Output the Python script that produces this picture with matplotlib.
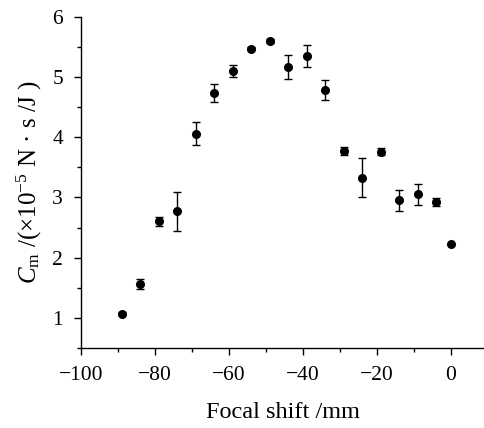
import matplotlib
matplotlib.use("Agg")
import matplotlib.pyplot as plt
from matplotlib.ticker import MultipleLocator

plt.rcParams['font.family'] = ['Liberation Serif', 'DejaVu Serif']
plt.rcParams['mathtext.fontset'] = 'custom'
plt.rcParams['mathtext.rm'] = 'Liberation Serif'
plt.rcParams['mathtext.it'] = 'Liberation Serif:italic'

# focal shift (mm), momentum coupling coefficient and error
shift = [-89, -84, -79, -74, -69, -64, -59, -54, -49, -44,
         -39, -34, -29, -24, -19, -14, -9, -4, 0]
cm = [1.07, 1.56, 2.60, 2.77, 4.06, 4.74, 5.10, 5.47, 5.60, 5.17,
      5.35, 4.78, 3.77, 3.33, 3.76, 2.95, 3.05, 2.92, 2.22]
err = [0.03, 0.08, 0.075, 0.32, 0.19, 0.15, 0.10, 0.03, 0.03, 0.20,
       0.18, 0.17, 0.07, 0.32, 0.06, 0.17, 0.17, 0.07, 0.0]

fig = plt.figure(figsize=(4.85, 4.28), dpi=100)
ax = fig.add_axes([0.167, 0.187, 0.833, 0.774])

ax.errorbar(shift, cm, yerr=err, fmt='o', color='black', ms=5.5,
            capsize=3, elinewidth=1, capthick=1)

ax.set_xlim(-100, 9.2)
ax.set_ylim(0.5, 6)
ax.xaxis.set_minor_locator(MultipleLocator(10))
ax.yaxis.set_minor_locator(MultipleLocator(0.5))
ax.set_yticks([1, 2, 3, 4, 5, 6])
ax.set_xticks([-100, -80, -60, -40, -20, 0])
ax.set_xticklabels(['\u2212100', '\u221280', '\u221260', '\u221240', '\u221220', '0'])

for s in ['top', 'right']:
    ax.spines[s].set_visible(False)
for s in ['left', 'bottom']:
    ax.spines[s].set_linewidth(1.0)

ax.tick_params(which='major', direction='out', length=5, width=1, labelsize=15.5, pad=8)
ax.tick_params(which='minor', direction='out', length=3, width=1)

ax.set_xlabel('Focal shift /mm', fontsize=17.5, labelpad=12)
ax.set_ylabel(r'$C_{\mathrm{m}}$ /(×10$^{-5}$ N · s /J )', fontsize=18, labelpad=6)

fig.savefig('out.png', dpi=100)
